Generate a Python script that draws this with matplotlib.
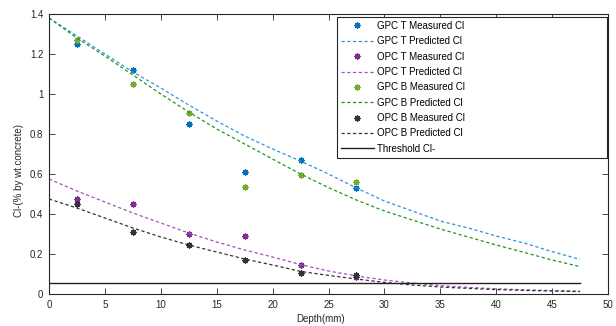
import matplotlib
matplotlib.use('Agg')
import matplotlib.pyplot as plt

plt.rcParams['font.family'] = ['Liberation Sans', 'DejaVu Sans']

# measured chloride content at each sampling depth
depth_meas = [2.5, 7.5, 12.5, 17.5, 22.5, 27.5]
gpc_t_meas = [1.25, 1.12, 0.85, 0.61, 0.67, 0.53]
opc_t_meas = [0.475, 0.45, 0.30, 0.29, 0.147, 0.085]
gpc_b_meas = [1.27, 1.05, 0.905, 0.535, 0.595, 0.56]
opc_b_meas = [0.45, 0.31, 0.245, 0.17, 0.105, 0.093]

# predicted profiles
depth_pred = [0, 2.5, 5, 7.5, 10, 12.5, 15, 17.5, 20, 22.5, 25, 27.5,
              30, 32.5, 35, 37.5, 40, 42.5, 45, 47.5]
gpc_t_pred = [1.38, 1.29, 1.20, 1.11, 1.03, 0.945, 0.865, 0.79, 0.725, 0.665,
              0.60, 0.53, 0.465, 0.415, 0.365, 0.33, 0.29, 0.255, 0.212, 0.173]
opc_t_pred = [0.575, 0.515, 0.46, 0.405, 0.355, 0.305, 0.26, 0.22, 0.185, 0.147,
              0.115, 0.09, 0.07, 0.055, 0.042, 0.033, 0.026, 0.021, 0.017, 0.014]
gpc_b_pred = [1.38, 1.28, 1.19, 1.095, 1.00, 0.91, 0.825, 0.75, 0.675, 0.60,
              0.532, 0.47, 0.415, 0.37, 0.325, 0.285, 0.245, 0.208, 0.17, 0.137]
opc_b_pred = [0.475, 0.43, 0.38, 0.33, 0.285, 0.245, 0.21, 0.175, 0.145, 0.113,
              0.093, 0.075, 0.058, 0.045, 0.035, 0.028, 0.022, 0.018, 0.015, 0.012]

threshold_x = [0, 47.5]
threshold = [0.055, 0.055]

fig = plt.figure(figsize=(6.16, 3.26), dpi=100)
ax = fig.add_axes([49 / 616, 32 / 326, 559 / 616, 280 / 326])

ast = (8, 2, 0)
ms = 4.5
mw = 0.9
dash = (0, (2.6, 2))
ax.plot(depth_meas, gpc_t_meas, ls='none', marker=ast, ms=ms, mew=mw, color='#0072BD', label='GPC T Measured Cl')
ax.plot(depth_pred, gpc_t_pred, ls=dash, lw=0.9, color='#2b95dd', label='GPC T Predicted Cl')
ax.plot(depth_meas, opc_t_meas, ls='none', marker=ast, ms=ms, mew=mw, color='#7E2F8E', label='OPC T Measured Cl')
ax.plot(depth_pred, opc_t_pred, ls=dash, lw=0.9, color='#a552bd', label='OPC T Predicted Cl')
ax.plot(depth_meas, gpc_b_meas, ls='none', marker=ast, ms=ms, mew=mw, color='#77AC30', label='GPC B Measured Cl')
ax.plot(depth_pred, gpc_b_pred, ls=dash, lw=0.9, color='#1c9a1c', label='GPC B Predicted Cl')
ax.plot(depth_meas, opc_b_meas, ls='none', marker=ast, ms=ms, mew=mw, color='#333333', label='OPC B Measured Cl')
ax.plot(depth_pred, opc_b_pred, ls=dash, lw=0.9, color='#333333', label='OPC B Predicted Cl')
ax.plot(threshold_x, threshold, ls='-', lw=1.0, color='#222222', label='Threshold Cl-')

ax.set_xlim(0, 50)
ax.set_ylim(0, 1.4)
ax.set_xticks(range(0, 51, 5))
ax.set_yticks([0, 0.2, 0.4, 0.6, 0.8, 1, 1.2, 1.4])
ax.set_yticklabels(['0', '0.2', '0.4', '0.6', '0.8', '1', '1.2', '1.4'])
ax.tick_params(direction='in', top=True, right=True, length=4, width=0.6,
               labelsize=7, colors='#262626', pad=4)
for s in ax.spines.values():
    s.set_linewidth(0.8)
    s.set_color('#262626')

ax.set_xlabel('Depth(mm)', fontsize=7, color='#262626')
ax.xaxis.set_label_coords(0.485, -0.072)
ax.set_ylabel('Cl-(% by wt.concrete)', fontsize=7, color='#262626')
ax.yaxis.set_label_coords(-0.044, 0.44)

leg = fig.legend(loc='upper left', bbox_to_anchor=(337 / 616, 0, 270 / 616, 309 / 326),
                 mode='expand', fontsize=7, frameon=True, fancybox=False,
                 framealpha=1, edgecolor='#262626', numpoints=1,
                 handlelength=3.4, handletextpad=0.3, labelspacing=0.55,
                 borderpad=0.4, borderaxespad=0)
leg.get_frame().set_linewidth(0.8)

fig.savefig('out.png', dpi=100)
